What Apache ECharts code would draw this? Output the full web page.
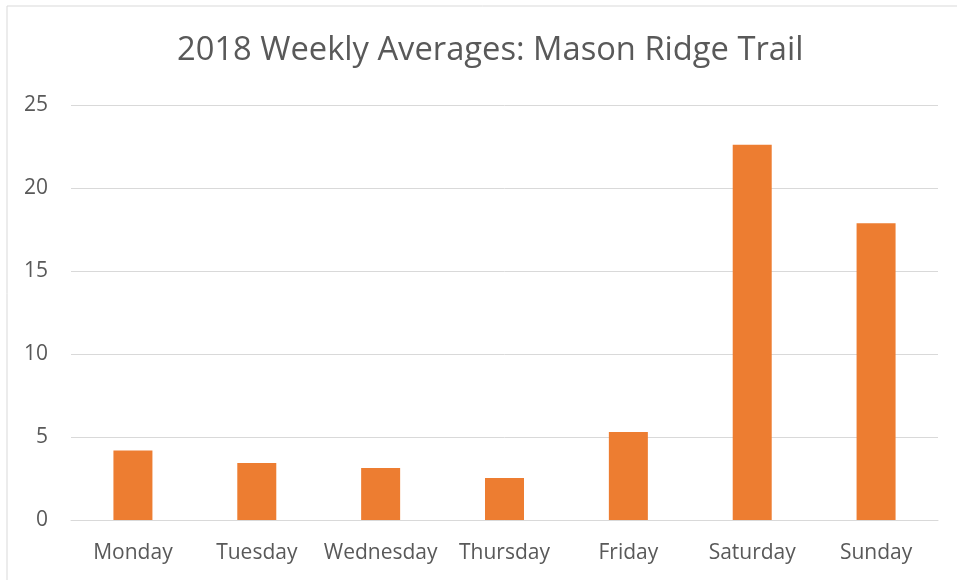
<!DOCTYPE html>
<html>
<head>
<meta charset="utf-8">
<script src="https://cdn.jsdelivr.net/npm/echarts@6/dist/echarts.min.js"></script>
<style>
  html, body { margin: 0; padding: 0; background: #fff; }
  #chart { width: 957px; height: 580px; }
</style>
</head>
<body>
<div id="chart"></div>
<script>
const TITLE = "2018 Weekly Averages: Mason Ridge Trail";
const days = ["Monday", "Tuesday", "Wednesday", "Thursday", "Friday", "Saturday", "Sunday"];
const averages = [4.19, 3.43, 3.13, 2.53, 5.30, 22.61, 17.88];
const yTicks = [0, 5, 10, 15, 20, 25];

const TEXT_COLOR = "#595959";
const GRID_COLOR = "#d9d9d9";
const FONT = "'Open Sans', sans-serif";

const chart = echarts.init(document.getElementById("chart"));

chart.setOption({
  animation: false,
  backgroundColor: "#fff",
  title: {
    text: TITLE,
    left: 172,
    top: 29,
    textStyle: {
      fontFamily: FONT,
      fontSize: 32.7,
      fontWeight: "normal",
      color: TEXT_COLOR,
    },
  },
  // light frame round the chart, as in the spreadsheet export
  graphic: [
    {
      type: "rect",
      shape: { x: 7, y: 6, width: 1000, height: 1000 },
      style: { fill: "none", stroke: GRID_COLOR, lineWidth: 1 },
      silent: true,
    },
  ],
  grid: {
    left: 71,
    right: 19,
    top: 105,
    bottom: 60,
    containLabel: false,
  },
  xAxis: {
    type: "category",
    data: days,
    axisLine: { show: true, lineStyle: { color: GRID_COLOR, width: 1 } },
    axisTick: { show: false },
    axisLabel: {
      interval: 0,
      color: TEXT_COLOR,
      fontFamily: FONT,
      fontSize: 21,
      margin: 23,
    },
  },
  yAxis: {
    type: "value",
    min: yTicks[0],
    max: yTicks[yTicks.length - 1],
    interval: 5,
    axisLine: { show: false },
    axisTick: { show: false },
    splitLine: { show: true, lineStyle: { color: GRID_COLOR, width: 1 } },
    axisLabel: {
      color: TEXT_COLOR,
      fontFamily: FONT,
      fontSize: 21,
      margin: 23,
    },
  },
  series: [
    {
      type: "bar",
      data: averages,
      barWidth: 39,
      itemStyle: { color: "#ED7D31" },
    },
  ],
});
</script>
</body>
</html>
